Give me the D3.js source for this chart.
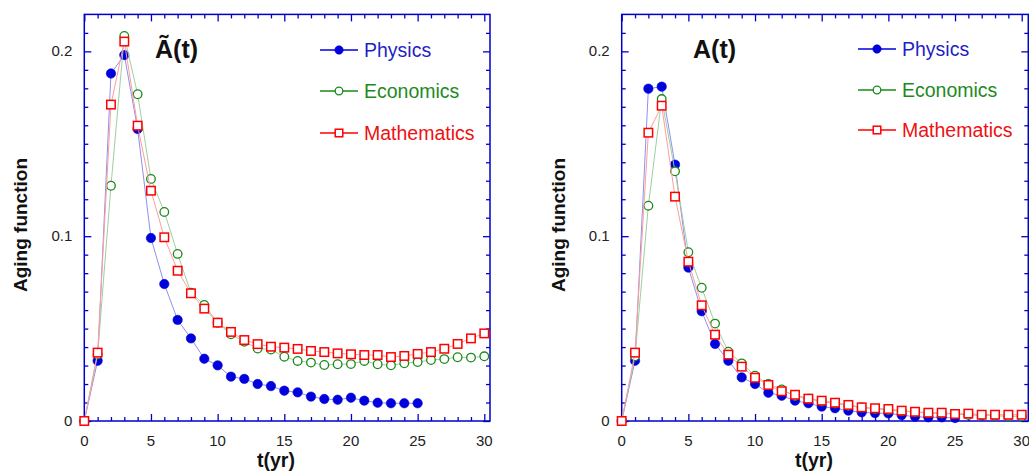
<!DOCTYPE html>
<html>
<head>
<meta charset="utf-8">
<script src="https://cdn.jsdelivr.net/npm/d3@7"></script>
<style>
  html, body { margin: 0; padding: 0; background: #fff; }
  svg { display: block; font-family: Arial, "Liberation Sans", sans-serif; }
</style>
</head>
<body>
<svg id="chart" width="1029" height="472"></svg>
<script>
// ---- data ----
const years = d3.range(0, 31);            // t = 0..30
const xTicks = [0, 5, 10, 15, 20, 25, 30];
const yTicks = [0, 0.1, 0.2];
const yTickLabels = ["0", "0.1", "0.2"];
const seriesNames = ["Physics", "Economics", "Mathematics"];
const panelTitles = ["\u00C3(t)", "A(t)"];

// Left panel: Ã(t)
const physicsTilde = [0, 0.0326, 0.188, 0.198, 0.158, 0.099, 0.0741, 0.0547, 0.0447, 0.0337, 0.0301,
  0.024, 0.0228, 0.0200, 0.0189, 0.0164, 0.0155, 0.0132, 0.0119, 0.0115, 0.0126,
  0.011, 0.0099, 0.0096, 0.0096, 0.0096];
const economicsTilde = [0, 0.036, 0.1273, 0.2083, 0.1768, 0.131, 0.1131, 0.0904, 0.0694, 0.0628, 0.0532,
  0.0469, 0.0429, 0.0392, 0.0387, 0.0348, 0.0325, 0.0316, 0.0303, 0.0307, 0.0308,
  0.0325, 0.0307, 0.0301, 0.0312, 0.0319, 0.033, 0.0335, 0.0345, 0.0343, 0.035];
const mathematicsTilde = [0, 0.037, 0.1712, 0.2053, 0.1598, 0.1246, 0.0994, 0.0813, 0.0691, 0.0608, 0.0532,
  0.0482, 0.0438, 0.0416, 0.0402, 0.0397, 0.039, 0.0379, 0.0373, 0.0366, 0.0361,
  0.0357, 0.0357, 0.0346, 0.0352, 0.0363, 0.0373, 0.0391, 0.0417, 0.0447, 0.0474];

// Right panel: A(t)
const physicsA = [0, 0.0326, 0.1798, 0.1809, 0.1387, 0.083, 0.0594, 0.0417, 0.0326, 0.0236, 0.020,
  0.0153, 0.0137, 0.011, 0.0096, 0.0078, 0.0069, 0.0056, 0.0047, 0.0043, 0.0041,
  0.0032, 0.0023, 0.002, 0.002, 0.0016];
const economicsA = [0, 0.035, 0.1165, 0.1742, 0.1351, 0.0913, 0.0721, 0.0527, 0.0375, 0.0312, 0.0245,
  0.020, 0.0171, 0.0135, 0.012, 0.0105, 0.0095, 0.0082, 0.0073, 0.0065, 0.006,
  0.0053, 0.0048, 0.0043, 0.004, 0.0037, 0.0033, 0.003, 0.0028, 0.0026, 0.0025];
const mathematicsA = [0, 0.037, 0.156, 0.1706, 0.1214, 0.0862, 0.0626, 0.0467, 0.0359, 0.0294, 0.0234,
  0.0195, 0.0161, 0.0142, 0.0121, 0.011, 0.0099, 0.0087, 0.0074, 0.0069, 0.0065,
  0.0056, 0.005, 0.0045, 0.0045, 0.0038, 0.004, 0.0034, 0.0034, 0.0034, 0.0034];

// ---- styling ----
const axisColor = "#0000cc";
const markerColors = ["#0000dd", "#1a8a1a", "#ff0000"];
const lineColors = ["#8f8fee", "#9fcf9f", "#ff9c9c"];
const textColors = ["#1f1fc4", "#1e8a1e", "#ee1111"];

const svg = d3.select("#chart");

const panels = [
  { left: 84.3, right: 490, data: [physicsTilde, economicsTilde, mathematicsTilde], title: panelTitles[0],
    titleX: 155, legendX: 320, legendYs: [50, 91, 133], ylabX: 27, xlabX: 276 },
  { left: 621.7, right: 1028.3, data: [physicsA, economicsA, mathematicsA], title: panelTitles[1],
    titleX: 693, legendX: 858, legendYs: [49, 90, 130], ylabX: 565, xlabX: 814 }
];

const plotTop = 14.4, plotBottom = 421;
const y = d3.scaleLinear().domain([0, 0.22]).range([plotBottom, plotTop]);

function drawMarker(g, kind, cx, cy, color, size) {
  if (kind === 0) {
    g.append("circle").attr("cx", cx).attr("cy", cy).attr("r", size)
      .attr("fill", color).attr("stroke", color).attr("stroke-width", 0.6);
  } else if (kind === 1) {
    g.append("circle").attr("cx", cx).attr("cy", cy).attr("r", size - 0.4)
      .attr("fill", "#fff").attr("stroke", color).attr("stroke-width", 1.3);
  } else {
    const s = size * 1.8;
    g.append("rect").attr("x", cx - s / 2).attr("y", cy - s / 2).attr("width", s).attr("height", s)
      .attr("fill", "#fff").attr("stroke", color).attr("stroke-width", 1.5);
  }
}

panels.forEach(p => {
  const x = d3.scaleLinear().domain([0, 30 * (p.right - p.left) / 400]).range([p.left, p.right]);
  const g = svg.append("g");

  const minorX = d3.range(0, 31).filter(v => v % 5 !== 0);
  const minorY = d3.range(0, 22).filter(v => v % 10 !== 0).map(v => v / 100);

  const axB = d3.axisTop(x).tickValues(xTicks).tickSize(7).tickFormat("");
  const axBm = d3.axisTop(x).tickValues(minorX).tickSize(4).tickFormat("");
  const axT = d3.axisBottom(x).tickValues(xTicks).tickSize(7).tickFormat("");
  const axTm = d3.axisBottom(x).tickValues(minorX).tickSize(4).tickFormat("");
  const axL = d3.axisRight(y).tickValues(yTicks).tickSize(7).tickFormat("");
  const axLm = d3.axisRight(y).tickValues(minorY).tickSize(4).tickFormat("");
  const axR = d3.axisLeft(y).tickValues(yTicks).tickSize(7).tickFormat("");
  const axRm = d3.axisLeft(y).tickValues(minorY).tickSize(4).tickFormat("");

  [[axB, `translate(0,${plotBottom})`], [axBm, `translate(0,${plotBottom})`],
   [axT, `translate(0,${plotTop})`], [axTm, `translate(0,${plotTop})`],
   [axL, `translate(${p.left},0)`], [axLm, `translate(${p.left},0)`],
   [axR, `translate(${p.right},0)`], [axRm, `translate(${p.right},0)`]].forEach(([ax, tr]) => {
    const a = g.append("g").attr("transform", tr).call(ax);
    a.select(".domain").remove();
    a.selectAll("line").attr("stroke", axisColor).attr("stroke-width", 1.3);
  });

  // frame
  g.append("rect").attr("x", p.left).attr("y", plotTop)
    .attr("width", p.right - p.left).attr("height", plotBottom - plotTop)
    .attr("fill", "none").attr("stroke", axisColor).attr("stroke-width", 1.5);

  // tick labels
  g.selectAll(".xl").data(xTicks).enter().append("text")
    .attr("x", d => x(d)).attr("y", 446).attr("text-anchor", "middle")
    .attr("font-size", 15).attr("fill", "#222").text(d => d);
  g.selectAll(".yl").data(yTicks).enter().append("text")
    .attr("x", p.left - 12).attr("y", d => y(d) + 5).attr("text-anchor", "end")
    .attr("font-size", 15).attr("fill", "#222").text((d, i) => yTickLabels[i]);

  // axis titles
  g.append("text").attr("x", p.xlabX).attr("y", 467).attr("text-anchor", "middle")
    .attr("font-size", 19.5).attr("font-weight", "bold").attr("fill", "#111").text("t(yr)");
  g.append("text").attr("transform", `translate(${p.ylabX},225) rotate(-90)`)
    .attr("text-anchor", "middle").attr("font-size", 19).attr("font-weight", "bold")
    .attr("fill", "#111").text("Aging function");

  // panel title
  g.append("text").attr("x", p.titleX).attr("y", 58).attr("font-size", 25)
    .attr("font-weight", "bold").attr("fill", "#111").text(p.title);

  // series
  const line = d3.line().x((d, i) => x(years[i])).y(d => y(d));
  p.data.forEach((vals, k) => {
    g.append("path").datum(vals).attr("d", line).attr("fill", "none")
      .attr("stroke", lineColors[k]).attr("stroke-width", 1);
    const mg = g.append("g");
    vals.forEach((v, i) => drawMarker(mg, k, x(years[i]), y(v), markerColors[k], 4.7));
  });

  // legend
  seriesNames.forEach((name, k) => {
    const ly = p.legendYs[k];
    const lg = g.append("g");
    lg.append("line").attr("x1", p.legendX).attr("x2", p.legendX + 38)
      .attr("y1", ly).attr("y2", ly).attr("stroke", markerColors[k]).attr("stroke-width", 1.3);
    drawMarker(lg, k, p.legendX + 19, ly, markerColors[k], 4.2);
    lg.append("text").attr("x", p.legendX + 44).attr("y", ly + 7)
      .attr("font-size", 19.5).attr("fill", textColors[k]).text(name);
  });
});
</script>
</body>
</html>
